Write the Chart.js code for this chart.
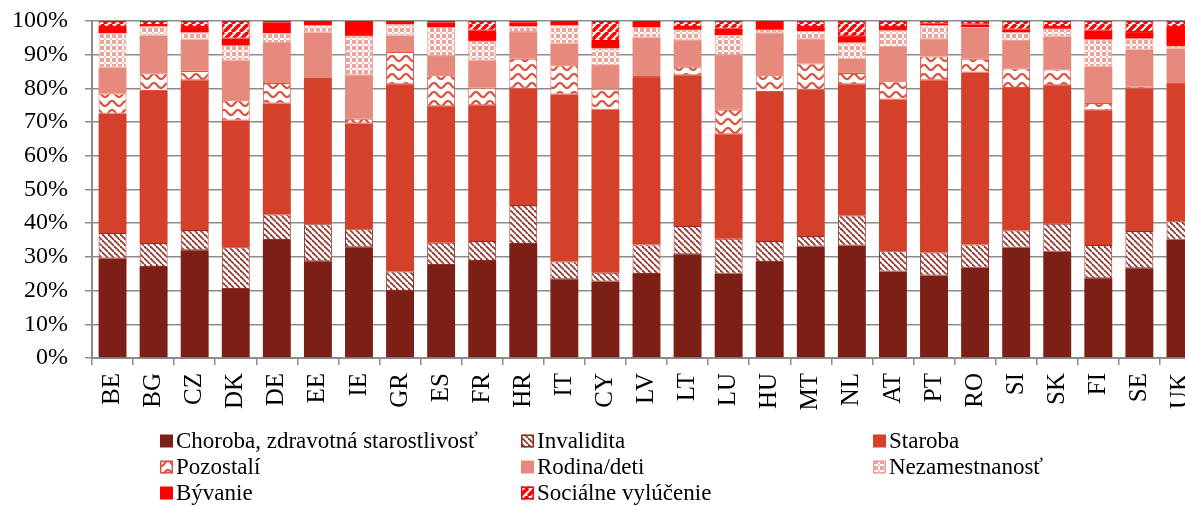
<!DOCTYPE html>
<html>
<head>
<meta charset="utf-8">
<script src="https://cdn.jsdelivr.net/npm/chart.js@4.4.0/dist/chart.umd.min.js"></script>
<style>
  html, body { margin: 0; padding: 0; background: #fff; overflow: hidden; width: 1185px; height: 506px; }
  #chart { display: block; }
</style>
</head>
<body>
<canvas id="chart" width="1220" height="506" style="width:1220px;height:506px"></canvas>
<script>
// Categories (countries)
const countries = ['BE', 'BG', 'CZ', 'DK', 'DE', 'EE', 'IE', 'GR', 'ES', 'FR', 'HR', 'IT', 'CY', 'LV',
  'LT', 'LU', 'HU', 'MT', 'NL', 'AT', 'PT', 'RO', 'SI', 'SK', 'FI', 'SE', 'UK'];

// Shares of each function in %, one value per country
const choroba = [29.5, 27.0, 32.0, 20.5, 35.0, 28.7, 32.9, 19.9, 27.6, 28.8, 33.8, 23.4, 22.7, 24.9,
  30.8, 25.0, 28.5, 33.1, 33.4, 25.7, 24.5, 26.8, 32.7, 31.5, 23.7, 26.6, 35.1];
const invalidita = [7.6, 7.1, 6.0, 12.4, 7.6, 11.0, 5.3, 5.8, 6.6, 5.9, 11.6, 5.2, 2.6, 8.8,
  8.4, 10.4, 6.2, 3.1, 8.9, 6.0, 6.8, 6.9, 5.1, 8.3, 9.8, 11.1, 5.5];
const staroba = [35.4, 45.1, 44.4, 37.6, 32.9, 43.5, 31.4, 55.5, 40.5, 40.3, 34.5, 49.6, 48.4, 49.4,
  44.7, 31.0, 44.2, 43.4, 38.9, 45.0, 51.1, 51.0, 42.3, 41.1, 40.0, 42.2, 40.7];
const pozostali = [6.0, 5.2, 2.8, 6.0, 6.1, 0.2, 1.4, 9.6, 9.2, 5.2, 8.9, 8.7, 6.2, 0.6,
  2.5, 7.3, 5.0, 7.8, 3.4, 5.4, 7.1, 4.1, 5.8, 4.7, 2.2, 0.7, 0.3];
const rodina = [7.7, 11.2, 9.3, 11.8, 11.9, 13.2, 12.9, 4.8, 5.7, 8.1, 7.9, 6.4, 7.0, 11.3,
  7.9, 16.1, 12.5, 7.2, 4.2, 10.2, 5.1, 9.2, 8.2, 9.7, 10.7, 10.9, 10.2];
const nezamestnanost = [10.2, 2.8, 2.1, 4.4, 2.9, 2.1, 11.7, 3.4, 8.6, 5.8, 1.8, 5.4, 5.1, 3.2,
  3.1, 6.0, 1.0, 2.4, 4.8, 4.9, 4.1, 0.2, 2.6, 2.4, 8.1, 3.3, 0.8];
const byvanie = [1.8, 0.4, 1.6, 2.1, 3.1, 1.3, 4.1, 1.0, 1.3, 3.1, 1.0, 0.7, 2.1, 1.5,
  0.8, 1.9, 2.6, 1.2, 1.9, 1.0, 0.5, 0.8, 0.8, 0.5, 2.7, 1.9, 5.6];
const vylucenie = [1.8, 1.2, 1.8, 5.2, 0.5, 0.0, 0.3, 0.0, 0.5, 2.8, 0.5, 0.6, 5.9, 0.3,
  1.8, 2.3, 0.0, 1.8, 4.5, 1.8, 0.8, 1.0, 2.5, 1.8, 2.8, 3.3, 1.8];

const yTicks = [0, 10, 20, 30, 40, 50, 60, 70, 80, 90, 100];

const FONT = "'Liberation Serif', 'Times New Roman', serif";

// Fill patterns like the Excel ones
function makePattern(w, h, draw) {
  const c = document.createElement('canvas');
  c.width = w;
  c.height = h;
  const g = c.getContext('2d');
  g.fillStyle = '#fff';
  g.fillRect(0, 0, w, h);
  draw(g, w, h);
  return document.getElementById('chart').getContext('2d').createPattern(c, 'repeat');
}

const hatchBrown = makePattern(6, 6, (g, w) => {
  g.strokeStyle = '#9A3A31';
  g.lineWidth = 1.8;
  for (let x0 = -w; x0 <= w; x0 += w) {
    g.beginPath();
    g.moveTo(x0, 0);
    g.lineTo(x0 + w, w);
    g.stroke();
  }
});

const stripesRed = makePattern(8, 8, (g, w) => {
  g.strokeStyle = '#FF0000';
  g.lineWidth = 3.6;
  for (let x0 = -w; x0 <= w; x0 += w) {
    g.beginPath();
    g.moveTo(x0, w);
    g.lineTo(x0 + w, 0);
    g.stroke();
  }
});

const waves = makePattern(14, 9, (g, w, h) => {
  g.strokeStyle = '#DA5441';
  g.lineWidth = 2.2;
  g.beginPath();
  for (let x = 0; x <= w; x += 0.5) {
    const y = 4.5 - 2.6 * Math.sin((x / w) * Math.PI * 2 + Math.PI / 2);
    if (x === 0) g.moveTo(x, y); else g.lineTo(x, y);
  }
  g.stroke();
});

const checker = makePattern(6, 6, (g) => {
  g.fillStyle = '#EDA39A';
  g.fillRect(0, 0, 6, 6);
  g.fillStyle = '#fff';
  g.fillRect(2, 0, 2, 6);
  g.fillRect(0, 2, 6, 2);
  g.fillStyle = '#F4C6C0';
  g.fillRect(2, 2, 2, 2);
});

const series = [
  { label: 'Choroba, zdravotná starostlivosť', data: choroba, fill: '#7C2017' },
  { label: 'Invalidita', data: invalidita, fill: hatchBrown, border: '#8E2F27' },
  { label: 'Staroba', data: staroba, fill: '#D5402B' },
  { label: 'Pozostalí', data: pozostali, fill: waves, border: '#DA5441' },
  { label: 'Rodina/deti', data: rodina, fill: '#E68A7E' },
  { label: 'Nezamestnanosť', data: nezamestnanost, fill: checker, border: '#EDA39A' },
  { label: 'Bývanie', data: byvanie, fill: '#FF0000' },
  { label: 'Sociálne vylúčenie', data: vylucenie, fill: stripesRed, border: '#FF0000' }
];

// Legend drawn in three aligned columns under the axis
const gridLegend = {
  id: 'gridLegend',
  afterDraw(chart) {
    const ctx = chart.ctx;
    const colX = [160, 521, 873];
    const rowY = [441, 467, 493];
    ctx.save();
    ctx.font = '23px ' + FONT;
    ctx.textBaseline = 'middle';
    chart.data.datasets.forEach((ds, i) => {
      const x = colX[i % 3];
      const y = rowY[Math.floor(i / 3)];
      ctx.fillStyle = ds.backgroundColor;
      ctx.fillRect(x, y - 6.5, 13, 13);
      if (ds.borderWidth) {
        ctx.strokeStyle = ds.borderColor;
        ctx.lineWidth = 1.5;
        ctx.strokeRect(x + 0.75, y - 5.75, 11.5, 11.5);
      }
      ctx.fillStyle = '#000';
      ctx.fillText(ds.label, x + 16, y + 1);
    });
    ctx.restore();
  }
};

new Chart(document.getElementById('chart'), {
  type: 'bar',
  data: {
    labels: countries,
    datasets: series.map(s => ({
      label: s.label,
      data: s.data,
      backgroundColor: s.fill,
      borderColor: s.border || s.fill,
      borderWidth: s.border ? 1 : 0,
      borderSkipped: false,
      barPercentage: 0.68,
      categoryPercentage: 1
    }))
  },
  options: {
    responsive: false,
    animation: false,
    layout: { padding: { top: 21, right: 19, left: 0, bottom: 0 } },
    plugins: {
      legend: { display: false },
      tooltip: { enabled: false }
    },
    scales: {
      x: {
        stacked: true,
        grid: { drawOnChartArea: false, color: '#8c8c8c', lineWidth: 1.5, tickLength: 7 },
        border: { color: '#8c8c8c', width: 2 },
        ticks: {
          minRotation: 90,
          maxRotation: 90,
          padding: 8,
          color: '#000',
          font: { family: FONT, size: 25 }
        },
        afterFit(scale) {
          scale.height = 148;
          scale.paddingLeft = 0;
          scale.paddingRight = 0;
        }
      },
      y: {
        stacked: true,
        min: 0,
        max: 100,
        afterBuildTicks(scale) { scale.ticks = yTicks.map(v => ({ value: v })); },
        grid: { color: '#8c8c8c', lineWidth: 1.5, tickLength: 7 },
        border: { color: '#8c8c8c', width: 2 },
        ticks: {
          padding: 17,
          color: '#000',
          font: { family: FONT, size: 24 },
          callback: v => v + '%'
        },
        afterFit(scale) {
          scale.width = 92;
          scale.paddingTop = 0;
          scale.paddingBottom = 0;
        }
      }
    }
  },
  plugins: [gridLegend]
});
</script>
</body>
</html>
